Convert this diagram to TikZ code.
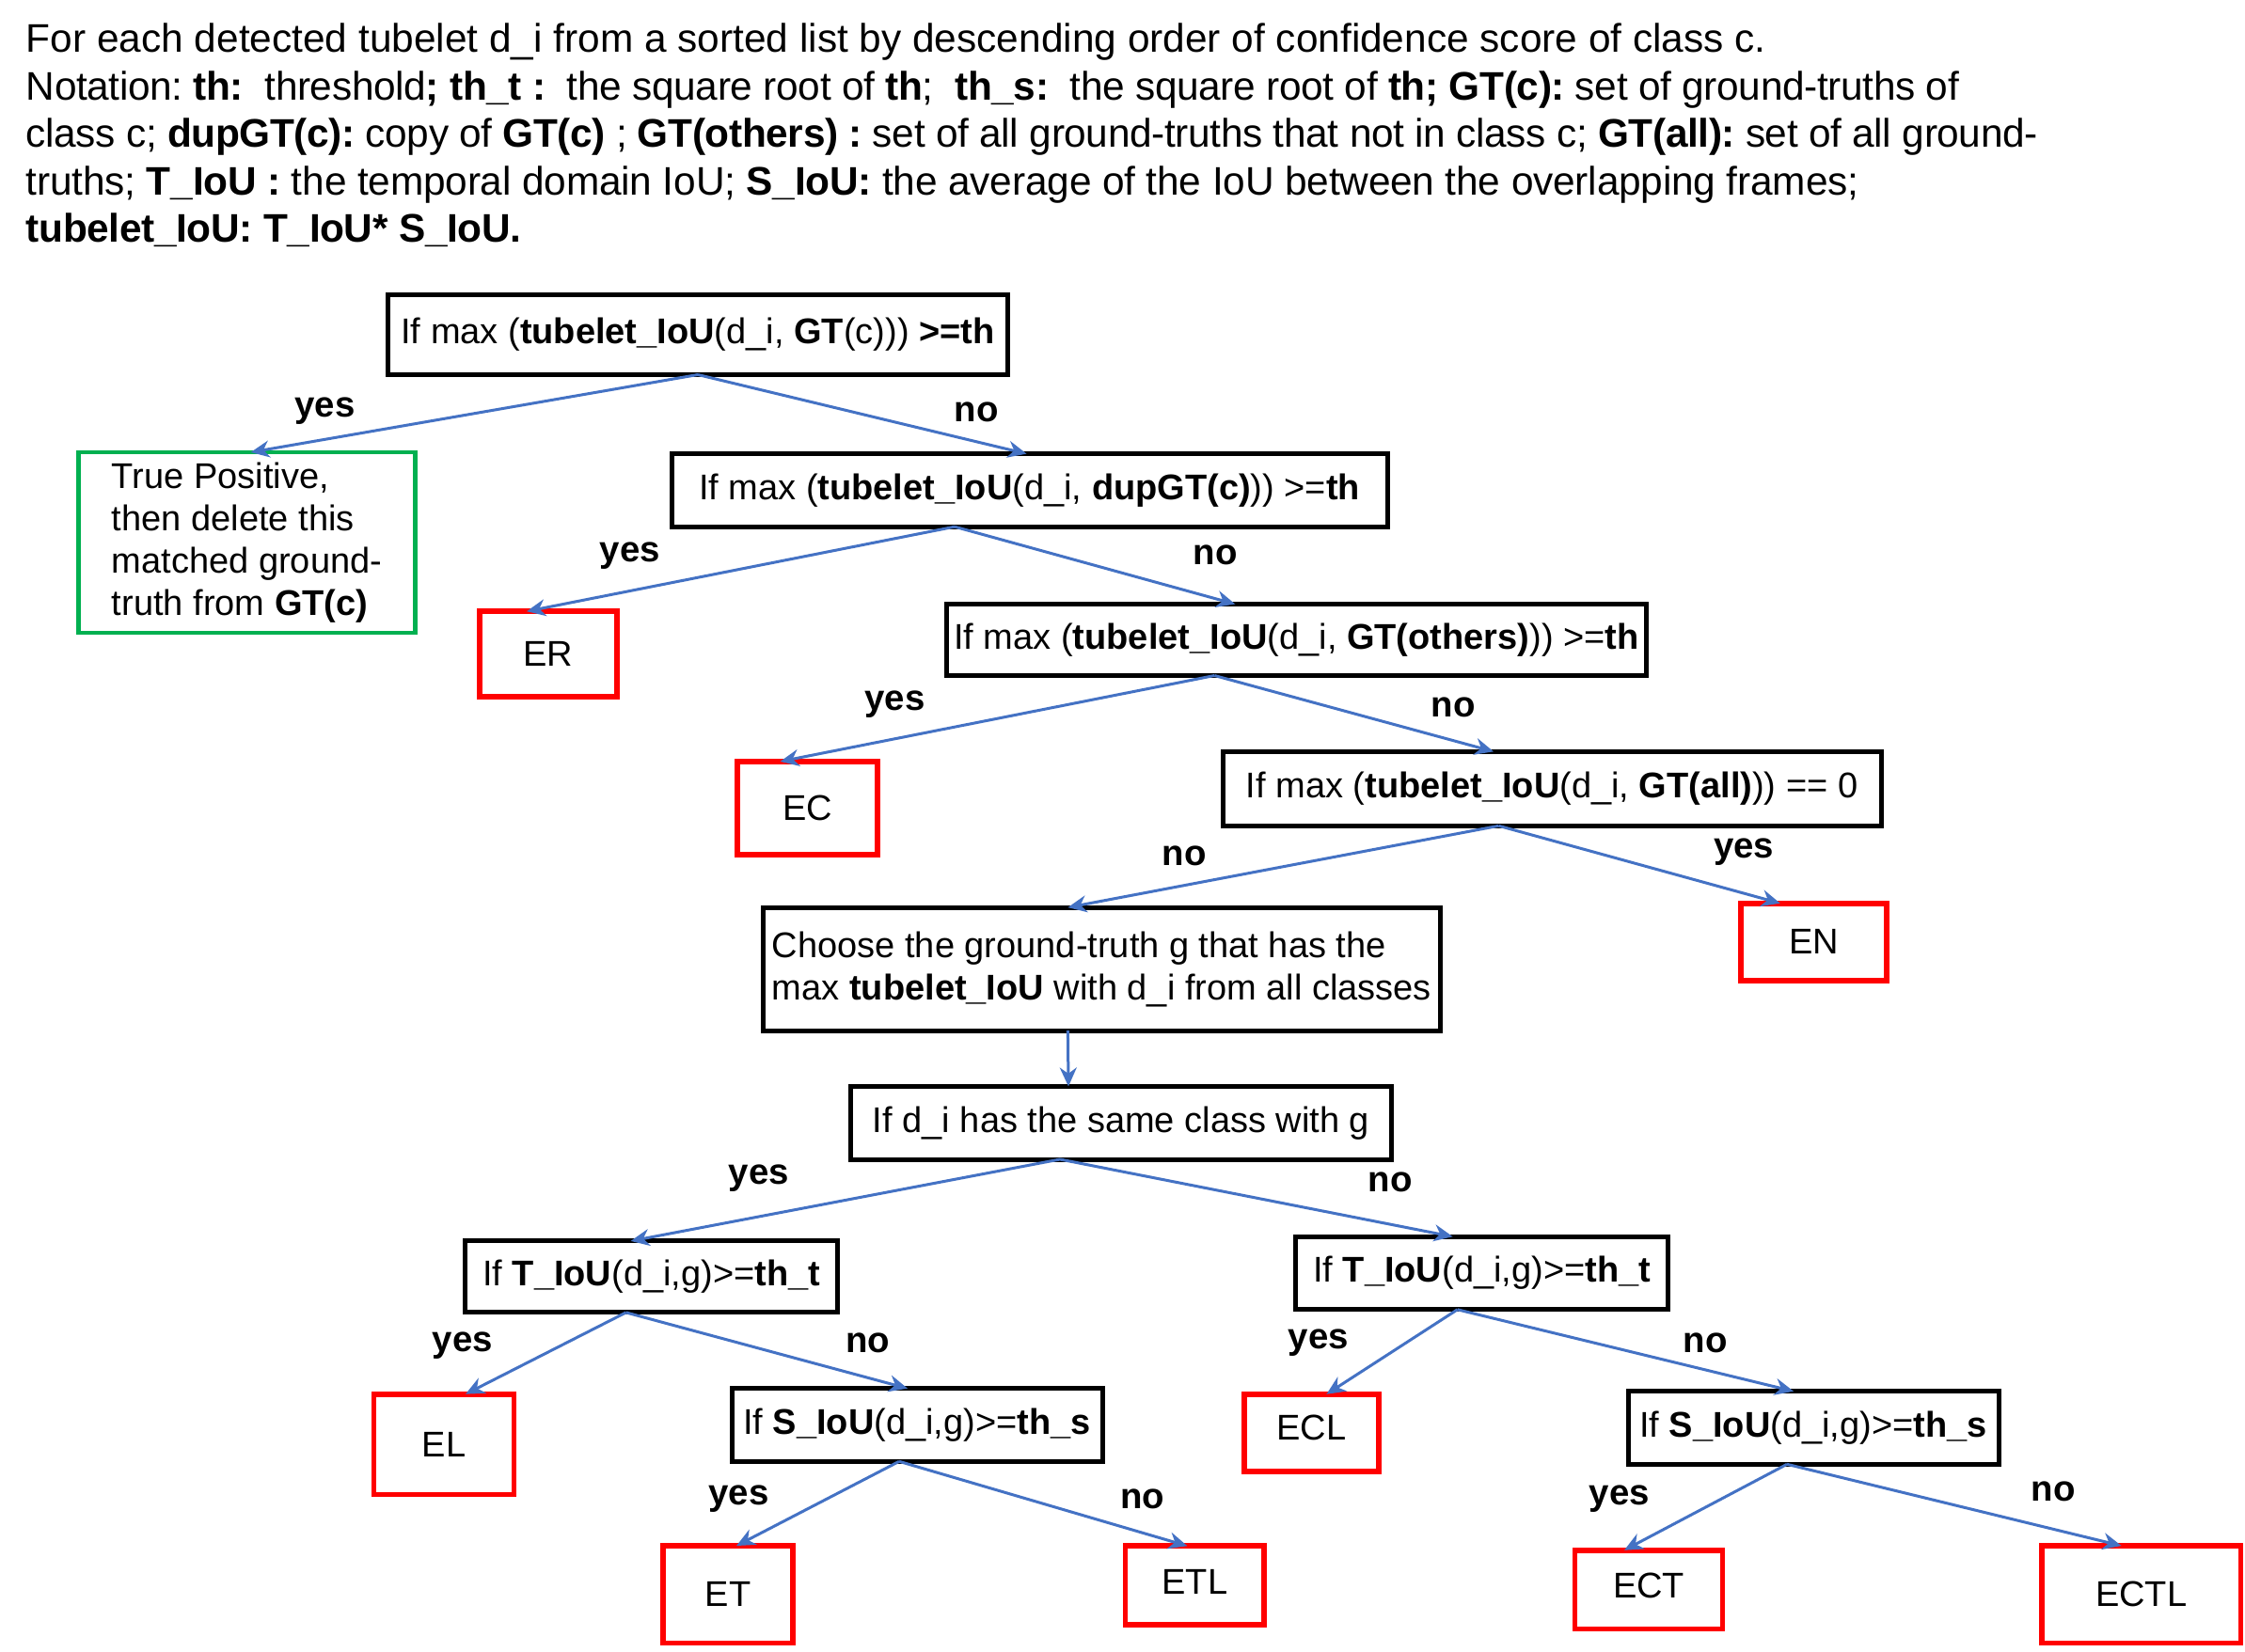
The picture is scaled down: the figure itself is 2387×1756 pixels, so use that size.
\documentclass[tikz,border=0pt]{standalone}
\usepackage{fontspec}
\setmainfont{Liberation Sans}
\newfontfamily\hdrtight{Liberation Sans}[LetterSpace=-0.85]
\newfontfamily\hdrtightb{Liberation Sans}[LetterSpace=-0.45]
\usetikzlibrary{arrows.meta,calc}
\definecolor{arrblue}{HTML}{4472C4}
\definecolor{redbox}{HTML}{FF0000}
\definecolor{greenbox}{HTML}{00B050}
\tikzset{
  boxfont/.style={font=\fontsize{9.5pt}{11.2pt}\selectfont\frenchspacing},
  box/.style={draw=black, line width=1.25pt, inner sep=0pt, outer sep=0pt, boxfont, align=center},
  redb/.style={draw=redbox, line width=1.4pt, inner sep=0pt, outer sep=0pt, boxfont, align=center},
  greenb/.style={draw=greenbox, line width=1.2pt, inner sep=0pt, outer sep=0pt, boxfont, align=left},
  arr/.style={draw=arrblue, line width=0.75pt, -{Stealth[length=5pt,width=4.5pt]}},
  lbl/.style={font=\fontsize{9.6pt}{11.2pt}\selectfont\bfseries, inner sep=0pt},
  hdr/.style={font=\fontsize{10.6pt}{12.65pt}\selectfont\frenchspacing, inner sep=0pt, align=left},
}
\begin{document}
\begin{tikzpicture}[x=0.25pt,y=-0.25pt]
\path[use as bounding box] (0,0) rectangle (2387,1756);

\node[hdr, anchor=north west] (hdr) at (27,24) {For each detected tubelet d\_i from a sorted list by descending order of confidence score of class c.\\
\hdrtight Notation: \textbf{th:}~ threshold\textbf{; th\_t :}~ the square root of \textbf{th};~ \textbf{th\_s:}~ the square root of \textbf{th; GT(c):} set of ground-truths of\\
\hdrtight class c; \textbf{dupGT(c):} copy of \textbf{GT(c)} ; \textbf{GT(others) :} set of all ground-truths that not in class c; \textbf{GT(all):} set of all ground-\\
\hdrtightb truths; \textbf{T\_IoU :} the temporal domain IoU; \textbf{S\_IoU:} the average of the IoU between the overlapping frames;\\
\hdrtight\textbf{tubelet\_IoU: T\_IoU* S\_IoU.}};

% boxes
\node[box, minimum width=164.75pt, minimum height=21.25pt] (b1) at (742,356) {If max (\textbf{tubelet\_IoU}(d\_i, \textbf{GT}(c))) \textbf{>=th}};
\node[greenb, minimum width=89.5pt, minimum height=48pt] (tp) at (262.6,577) {True Positive,\\then delete this\\matched ground-\\truth from \textbf{GT(c)}};
\node[box, minimum width=190.25pt, minimum height=19.4pt] (b2) at (1094.5,521.4) {If max (\textbf{tubelet\_IoU}(d\_i, \textbf{dupGT(c)})) >=\textbf{th}};
\node[redb, minimum width=36.5pt, minimum height=22.75pt] (er) at (583,695.7) {ER};
\node[box, minimum width=186.15pt, minimum height=19pt] (b3) at (1378.3,680.5) {If max (\textbf{tubelet\_IoU}(d\_i, \textbf{GT(others)})) >=\textbf{th}};
\node[redb, minimum width=37.25pt, minimum height=24.75pt] (ec) at (858.5,859.4) {EC};
\node[box, minimum width=175pt, minimum height=19.75pt] (b4) at (1650,838.8) {If max (\textbf{tubelet\_IoU}(d\_i, \textbf{GT(all)})) == 0};
\node[redb, minimum width=38.75pt, minimum height=20.5pt] (en) at (1928.7,1001.7) {EN};
\node[box, align=left, minimum width=180pt, minimum height=32.75pt] (ch) at (1171.4,1030.6) {Choose the ground-truth g that has the\\max \textbf{tubelet\_IoU} with d\_i from all classes};
\node[box, minimum width=143.9pt, minimum height=19.4pt] (same) at (1192,1194.2) {If d\_i has the same class with g};
\node[box, minimum width=99pt, minimum height=19pt] (tl) at (692.6,1357.9) {If \textbf{T\_IoU}(d\_i,g)>=\textbf{th\_t}};
\node[box, minimum width=99pt, minimum height=19.4pt] (tr) at (1575.6,1354) {If \textbf{T\_IoU}(d\_i,g)>=\textbf{th\_t}};
\node[redb, minimum width=37.25pt, minimum height=26.65pt] (el) at (472,1536) {EL};
\node[box, minimum width=98.5pt, minimum height=19.4pt] (sl) at (975,1515.5) {If \textbf{S\_IoU}(d\_i,g)>=\textbf{th\_s}};
\node[redb, minimum width=35.75pt, minimum height=20.5pt] (ecl) at (1394.4,1523.8) {\raisebox{3pt}{ECL}};
\node[box, minimum width=98.5pt, minimum height=19.4pt] (sr) at (1928,1518.5) {If \textbf{S\_IoU}(d\_i,g)>=\textbf{th\_s}};
\node[redb, minimum width=34.6pt, minimum height=25.9pt] (et) at (774,1695.8) {ET};
\node[redb, minimum width=36.9pt, minimum height=20.9pt] (etl) at (1270.4,1686) {\raisebox{2pt}{ETL}};
\node[redb, minimum width=39.2pt, minimum height=20.9pt] (ect) at (1753,1690.5) {\raisebox{2pt}{ECT}};
\node[redb, minimum width=52.9pt, minimum height=25.9pt] (ectl) at (2276.6,1695.8) {ECTL};

% connectors
\draw[arr] (b1.south) -- ($(tp.north)+(4,0)$);
\draw[arr] (b1.south) -- ($(b2.north)+(-3,0)$);
\draw[arr] ($(b2.south)+(-79.5,0)$) -- ($(er.north)+(-23,0)$);
\draw[arr] ($(b2.south)+(-79.5,0)$) -- ($(b3.north)+(-65,0)$);
\draw[arr] ($(b3.south)+(-87,0)$) -- ($(ec.north)+(-29,0)$);
\draw[arr] ($(b3.south)+(-87,0)$) -- ($(b4.north)+(-62,0)$);
\draw[arr] ($(b4.south)+(-56.5,0)$) -- ($(ch.north)+(-36,0)$);
\draw[arr] ($(b4.south)+(-56.5,0)$) -- ($(en.north)+(-36,0)$);
\draw[arr] ($(ch.south)+(-36,0)$) -- ($(same.north)+(-56,0)$);
\draw[arr] ($(same.south)+(-65,0)$) -- ($(tl.north)+(-22,0)$);
\draw[arr] ($(same.south)+(-65,0)$) -- ($(tr.north)+(-31,0)$);
\draw[arr] ($(tl.south)+(-27,0)$) -- ($(el.north)+(23,0)$);
\draw[arr] ($(tl.south)+(-27,0)$) -- ($(sl.north)+(-10,0)$);
\draw[arr] ($(tr.south)+(-26,0)$) -- ($(ecl.north)+(16,0)$);
\draw[arr] ($(tr.south)+(-26,0)$) -- ($(sr.north)+(-21,0)$);
\draw[arr] ($(sl.south)+(-19,0)$) -- ($(et.north)+(9,0)$);
\draw[arr] ($(sl.south)+(-19,0)$) -- ($(etl.north)+(-8,0)$);
\draw[arr] ($(sr.south)+(-28,0)$) -- ($(ect.north)+(-26,0)$);
\draw[arr] ($(sr.south)+(-28,0)$) -- ($(ectl.north)+(-21,0)$);

% labels
\node[lbl] (y1) at (345.6,436.9) {yes};
\node[lbl] (n1) at (1038,438.4) {no};
\node[lbl] (y2) at (669.8,590.7) {yes};
\node[lbl] (n2) at (1292.4,590.7) {no};
\node[lbl] (y3) at (951.4,749) {yes};
\node[lbl] (n3) at (1545,752) {no};
\node[lbl] (n4) at (1259,910.3) {no};
\node[lbl] (y4) at (1854.2,905.8) {yes};
\node[lbl] (y5) at (806.8,1252.8) {yes};
\node[lbl] (n5) at (1478.2,1257.4) {no};
\node[lbl] (y6) at (491.7,1431) {yes};
\node[lbl] (n6) at (922.5,1428) {no};
\node[lbl] (y7) at (1402,1428) {yes};
\node[lbl] (n7) at (1813,1428) {no};
\node[lbl] (y8) at (785.5,1594) {yes};
\node[lbl] (n8) at (1214.8,1594) {no};
\node[lbl] (y9) at (1721.7,1594) {yes};
\node[lbl] (n9) at (2183,1586) {no};
\end{tikzpicture}
\end{document}
